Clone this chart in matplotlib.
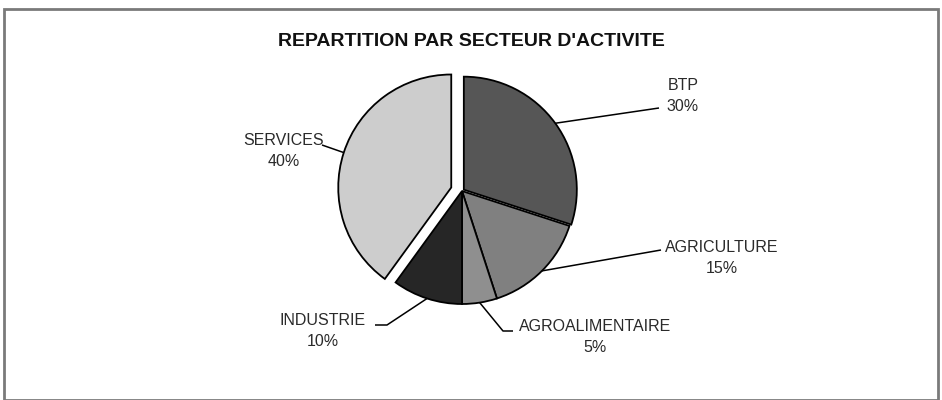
import matplotlib.pyplot as plt
import numpy as np
from matplotlib.patches import Rectangle

plt.rcParams['font.family'] = ['Liberation Sans', 'DejaVu Sans']

# données
secteurs = ['BTP', 'AGRICULTURE', 'AGROALIMENTAIRE', 'INDUSTRIE', 'SERVICES']
parts = [30, 15, 5, 10, 40]
couleurs = ['#565656', '#808080', '#8f8f8f', '#262626', '#cdcdcd']
eclat = [0.02, 0, 0, 0, 0.1]   # en fraction du rayon

# position des étiquettes (pixels image, y vers le bas) et coudes des traits
pos_texte = [(683, 96), (722, 258), (595, 337), (323, 331), (284, 151)]
traits = [
    [(659, 108)],
    [(661, 250)],
    [(503, 331), (513, 331)],
    [(387, 325), (375, 325)],
    [(322, 145)],
]

W, H = 942, 400
R = 113
fig = plt.figure(figsize=(W / 100, H / 100), dpi=100)
ax = fig.add_axes([0, 0, 1, 1])

# explode de matplotlib est en unités de données -> mise à l'échelle du rayon
wedges, _ = ax.pie(parts, colors=couleurs, explode=[e * R for e in eclat],
                   startangle=90, counterclock=False, center=(462, H - 191), radius=R,
                   wedgeprops=dict(edgecolor='black', linewidth=1.3))
ax.set_xlim(0, W)
ax.set_ylim(0, H)
ax.axis('off')

for w, nom, p, (tx, ty), coude in zip(wedges, secteurs, parts, pos_texte, traits):
    ang = np.deg2rad((w.theta1 + w.theta2) / 2)
    x0 = w.center[0] + w.r * np.cos(ang)
    y0 = w.center[1] + w.r * np.sin(ang)
    xs = [x0] + [c[0] for c in coude]
    ys = [y0] + [H - c[1] for c in coude]
    ax.plot(xs, ys, color='black', lw=1.1, solid_capstyle='butt')
    ax.text(tx, H - ty, f'{nom}\n{p}%', ha='center', va='center',
            fontsize=11.5, color='#2a2a2a', linespacing=1.45)

ax.text(471, H - 42, "REPARTITION PAR SECTEUR D'ACTIVITE", ha='center', va='center',
        fontsize=14, fontweight='bold', color='#111111')

fig.patches.append(Rectangle((4 / W, 0), 934 / W, 391 / H, transform=fig.transFigure,
                             fill=False, edgecolor='#7a7a7a', linewidth=2))

fig.savefig('out.png', dpi=100, facecolor='white')
